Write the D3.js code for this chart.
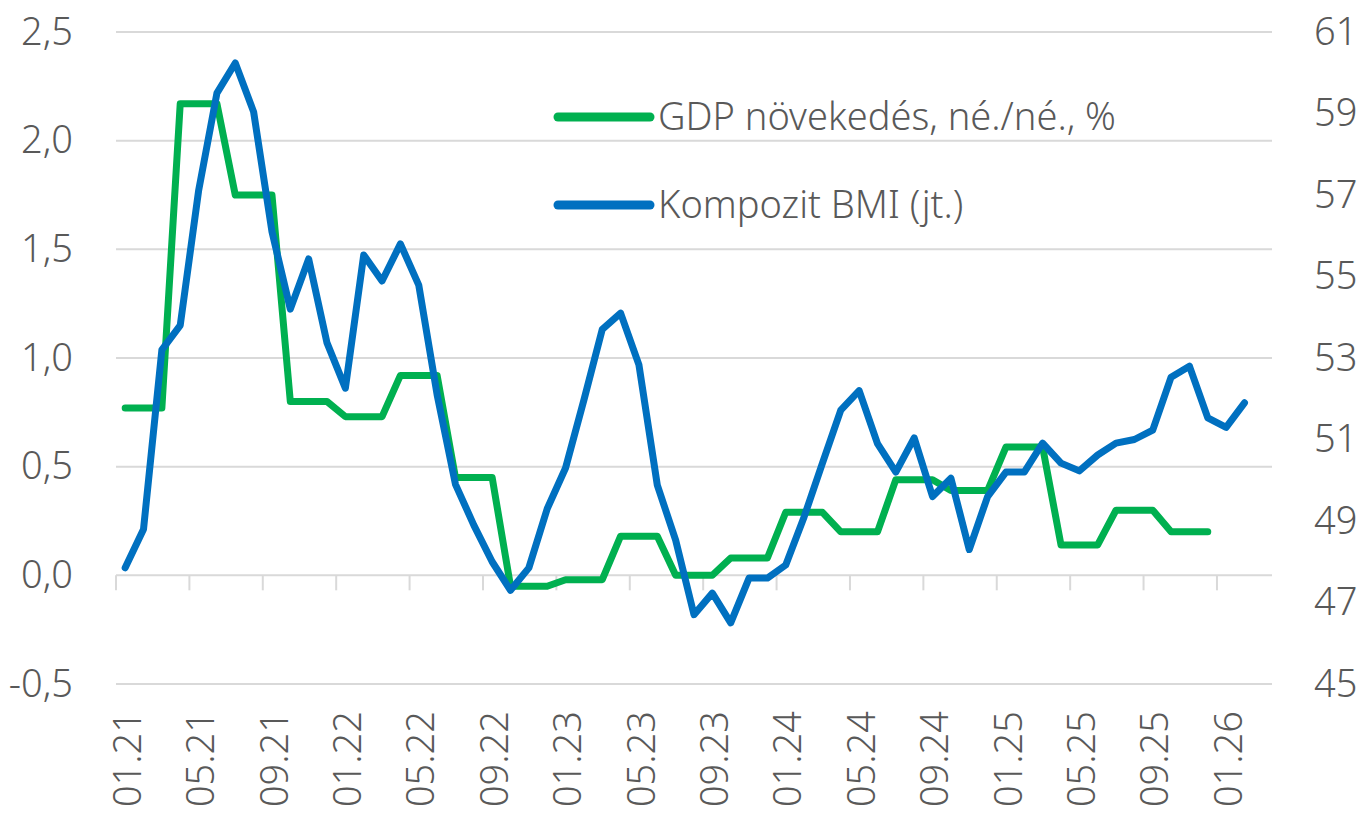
<!DOCTYPE html>
<html>
<head>
<meta charset="utf-8">
<script src="https://cdn.jsdelivr.net/npm/d3@7"></script>
<style>
  body { margin: 0; background: #fff; }
  svg text {
    font-family: "Noto Sans", "Open Sans", sans-serif;
    font-stretch: condensed;
    font-weight: 300;
    fill: #595959;
  }
</style>
</head>
<body>
<svg id="chart" width="1364" height="818"></svg>
<script>
// months 01.21 .. 03.26 (last one empty)
const years = ["21", "22", "23", "24", "25", "26"];
const categories = [];
years.forEach(y => {
  for (let m = 1; m <= 12; m++) categories.push(String(m).padStart(2, "0") + "." + y);
});
categories.length = 63;

const tickLabels = ["01.21", "05.21", "09.21", "01.22", "05.22", "09.22", "01.23", "05.23",
  "09.23", "01.24", "05.24", "09.24", "01.25", "05.25", "09.25", "01.26"];

// GDP growth q/q %, monthly (quarter value repeated)
const gdp = [
  0.77, 0.77, 0.77, 2.17, 2.17, 2.17, 1.75, 1.75, 1.75, 0.80, 0.80, 0.80,
  0.73, 0.73, 0.73, 0.92, 0.92, 0.92, 0.45, 0.45, 0.45, -0.05, -0.05, -0.05,
  -0.02, -0.02, -0.02, 0.18, 0.18, 0.18, 0.00, 0.00, 0.00, 0.08, 0.08, 0.08,
  0.29, 0.29, 0.29, 0.20, 0.20, 0.20, 0.44, 0.44, 0.44, 0.39, 0.39, 0.39,
  0.59, 0.59, 0.59, 0.14, 0.14, 0.14, 0.30, 0.30, 0.30, 0.20, 0.20, 0.20
];

// composite PMI (right axis)
const pmi = [
  47.85, 48.8, 53.2, 53.8, 57.1, 59.5, 60.24, 59.04, 56.1, 54.2,
  55.43, 53.37, 52.26, 55.53, 54.89, 55.8, 54.79, 52.1, 49.9, 48.9,
  48.0, 47.3, 47.85, 49.3, 50.3, 51.97, 53.7, 54.1, 52.83, 49.88,
  48.53, 46.7, 47.23, 46.5, 47.6, 47.6, 47.92, 49.1, 50.42, 51.72,
  52.2, 50.9, 50.2, 51.04, 49.6, 50.05, 48.3, 49.6, 50.2, 50.2,
  50.91, 50.42, 50.23, 50.62, 50.91, 51.0, 51.23, 52.53, 52.8, 51.53,
  51.3, 51.9
];

const leftTicks = [-0.5, 0, 0.5, 1.0, 1.5, 2.0, 2.5];
const rightTicks = [45, 47, 49, 51, 53, 55, 57, 59, 61];

const series = [
  { name: "GDP növekedés, né./né., %", values: gdp, axis: "left", color: "#00b050" },
  { name: "Kompozit BMI (jt.)", values: pmi, axis: "right", color: "#0070c0" }
];

const svg = d3.select("#chart");
const plot = { left: 116, right: 1272, top: 32, bottom: 684 };

const x = d3.scaleBand()
  .domain(categories)
  .range([plot.left, plot.right]);

const yL = d3.scaleLinear().domain([-0.5, 2.5]).range([plot.bottom, plot.top]);
const yR = d3.scaleLinear().domain([45, 61]).range([plot.bottom, plot.top]);

const fmt = d => d3.format(".1f")(d).replace(".", ",").replace("−", "-");

// gridlines
svg.append("g")
  .selectAll("line")
  .data(leftTicks)
  .join("line")
  .attr("x1", plot.left)
  .attr("x2", plot.right)
  .attr("y1", d => yL(d))
  .attr("y2", d => yL(d))
  .attr("stroke", "#d9d9d9")
  .attr("stroke-width", 2);

// left axis labels
const leftAxis = d3.axisLeft(yL).tickValues(leftTicks).tickFormat(fmt).tickSize(0).tickPadding(0);
svg.append("g")
  .attr("transform", "translate(73,0)")
  .call(leftAxis)
  .call(g => g.select(".domain").remove())
  .call(g => g.selectAll("text").attr("font-size", 38).attr("font-family", null).attr("fill", null));

// right axis labels
const rightAxis = d3.axisRight(yR).tickValues(rightTicks).tickSize(0).tickPadding(0);
svg.append("g")
  .attr("transform", "translate(1314,0)")
  .call(rightAxis)
  .call(g => g.select(".domain").remove())
  .call(g => g.selectAll("text").attr("font-size", 38).attr("font-family", null).attr("fill", null));

// category axis on the zero line
const tickCats = categories.filter((c, i) => i % 4 === 0 && tickLabels.includes(c));
const xAxis = svg.append("g").attr("transform", `translate(0,${yL(0)})`);
xAxis.selectAll("line")
  .data(tickCats)
  .join("line")
  .attr("x1", d => x(d))
  .attr("x2", d => x(d))
  .attr("y1", 0)
  .attr("y2", 15)
  .attr("stroke", "#d9d9d9")
  .attr("stroke-width", 2);

svg.append("g")
  .selectAll("text")
  .data(tickCats)
  .join("text")
  .attr("transform", d => `translate(${x(d) + x.bandwidth() / 2 + 2},711) rotate(-90)`)
  .attr("text-anchor", "end")
  .attr("dy", "0.36em")
  .attr("font-size", 38)
  .text(d => d);

// lines
series.forEach(s => {
  const y = s.axis === "left" ? yL : yR;
  const line = d3.line()
    .x((d, i) => x(categories[i]) + x.bandwidth() / 2)
    .y(d => y(d));
  svg.append("path")
    .datum(s.values)
    .attr("d", line)
    .attr("fill", "none")
    .attr("stroke", s.color)
    .attr("stroke-width", 7)
    .attr("stroke-linejoin", "round")
    .attr("stroke-linecap", "round");
});

// legend
const legend = svg.append("g").attr("transform", "translate(558,117)");
series.forEach((s, i) => {
  const g = legend.append("g").attr("transform", `translate(0,${i * 88})`);
  g.append("line")
    .attr("x1", 0).attr("x2", 92)
    .attr("stroke", s.color)
    .attr("stroke-width", 9)
    .attr("stroke-linecap", "round");
  g.append("text")
    .attr("x", 100)
    .attr("y", 13)
    .attr("font-size", 38)
    .text(s.name);
});
</script>
</body>
</html>
